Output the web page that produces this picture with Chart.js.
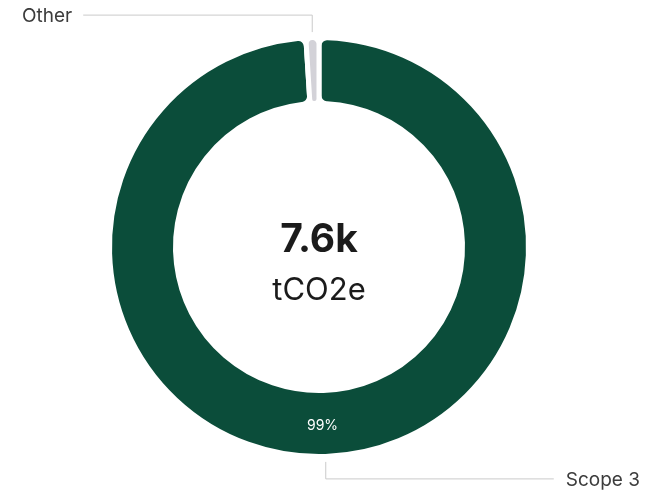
<!DOCTYPE html>
<html>
<head>
<meta charset="utf-8">
<script src="https://cdn.jsdelivr.net/npm/chart.js@4.4.0/dist/chart.umd.min.js"></script>
<style>
  html, body { margin: 0; padding: 0; background: #fff; }
  #wrap { width: 654px; height: 495px; }
</style>
</head>
<body>
<div id="wrap"><canvas id="donutChart" width="654" height="495"></canvas></div>
<script>
// emissions split by scope, shares in %
const labels = ['Scope 3', 'Other'];
const shares = [99, 1];
const colors = ['#0b4d3a', '#d3d2d8'];
const totalLabel = '7.6k';
const unitLabel = 'tCO2e';

const FONT = 'Inter, "Noto Sans", sans-serif';

// total in the hole of the ring
const centerText = {
    id: 'centerText',
    afterDraw(chart) {
        const arc = chart.getDatasetMeta(0).data[0];
        if (!arc) return;
        const ctx = chart.ctx;
        ctx.save();
        ctx.textAlign = 'center';
        ctx.textBaseline = 'alphabetic';
        ctx.fillStyle = '#1b1b1b';
        ctx.font = 'bold 39px ' + FONT;
        ctx.fillText(totalLabel, arc.x, arc.y + 5);
        ctx.font = '31px ' + FONT;
        ctx.fillText(unitLabel, arc.x, arc.y + 53);
        ctx.restore();
    }
};

// percentage inside slice + leader lines with category names
const sliceLabels = {
    id: 'sliceLabels',
    afterDraw(chart) {
        const ctx = chart.ctx;
        const meta = chart.getDatasetMeta(0);
        const total = shares.reduce((a, b) => a + b, 0);
        const W = chart.width;
        ctx.save();
        meta.data.forEach((arc, i) => {
            const p = arc.getProps(['x', 'y', 'startAngle', 'endAngle', 'outerRadius', 'innerRadius'], true);
            const mid = (p.startAngle + p.endAngle) / 2;
            const pct = shares[i] / total * 100;
            const outer = p.outerRadius - 2.5;

            if (pct >= 5) {
                const r = (p.innerRadius + p.outerRadius) / 2;
                ctx.fillStyle = '#ffffff';
                ctx.font = '14px ' + FONT;
                ctx.textAlign = 'center';
                ctx.textBaseline = 'middle';
                ctx.fillText(Math.round(pct) + '%', p.x + Math.cos(mid) * r - 2, p.y + Math.sin(mid) * r + 2);
            }

            // leader: short radial stub, then horizontal run to the label
            const sx = p.x + Math.cos(mid) * (outer + 8);
            const sy = p.y + Math.sin(mid) * (outer + 8);
            const up = Math.sin(mid) < 0;
            const ey = up ? sy - 17 : sy + 17;
            const left = up;
            ctx.font = '19px ' + FONT;
            const tw = ctx.measureText(labels[i]).width;
            const ex = left ? 22 + tw + 11 : W - 14 - tw - 12;

            ctx.strokeStyle = '#cacaca';
            ctx.lineWidth = 1;
            ctx.beginPath();
            ctx.moveTo(sx, sy);
            ctx.lineTo(sx, ey);
            ctx.lineTo(ex, ey);
            ctx.stroke();

            ctx.fillStyle = '#3c3c3c';
            ctx.textBaseline = 'middle';
            ctx.textAlign = left ? 'right' : 'left';
            ctx.fillText(labels[i], left ? ex - 11 : ex + 12, ey + 1);
        });
        ctx.restore();
    }
};

const ctx = document.getElementById('donutChart').getContext('2d');
const donutChart = new Chart(ctx, {
    type: 'doughnut',
    data: {
        labels: labels,
        datasets: [{
            data: shares,
            backgroundColor: colors,
            borderColor: '#ffffff',
            borderWidth: 5,
            borderRadius: 8,
            hoverOffset: 0
        }]
    },
    options: {
        responsive: false,
        animation: false,
        radius: 209.5,
        cutout: '68.5%',
        layout: { padding: { top: 20, bottom: 21, left: 0, right: 16 } },
        plugins: {
            legend: { display: false },
            tooltip: { enabled: false }
        }
    },
    plugins: [centerText, sliceLabels]
});
</script>
</body>
</html>
